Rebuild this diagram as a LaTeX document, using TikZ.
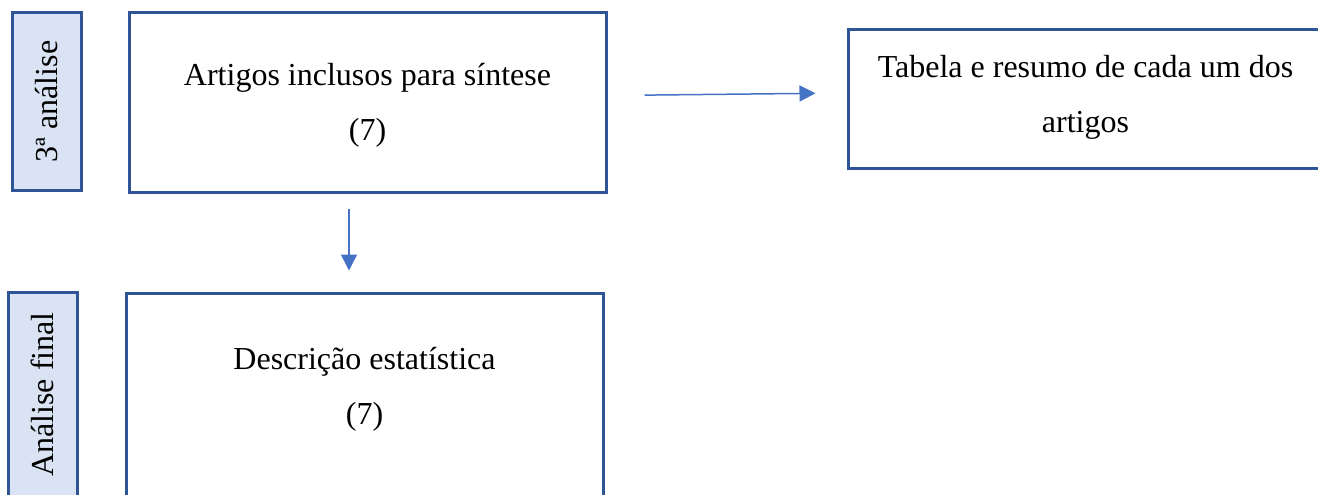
\documentclass[tikz,border=0pt]{standalone}
\usepackage{fontspec}
\setmainfont{Liberation Serif}
\usetikzlibrary{arrows.meta}
\definecolor{borda}{HTML}{2F5597}
\definecolor{fundo}{HTML}{DAE3F3}
\definecolor{azulseta}{HTML}{4472C4}

\begin{document}
\begin{tikzpicture}[x=1pt,y=-1pt,
  caixa/.style={draw=borda,line width=3pt,align=center,font=\fontsize{32}{55}\selectfont},
  etapa/.style={draw=borda,fill=fundo,line width=3pt,rotate=90,minimum height=69pt,font=\fontsize{32}{38}\selectfont},
  ligacao/.style={draw=azulseta,line width=1.5pt,-{Triangle[length=16pt,width=16pt]}}]
\useasboundingbox (0,0) rectangle (1318,495);
\clip (0,0) rectangle (1318,495);
% etapas
\node[etapa,minimum width=178pt] (fase3) at (46.5,101.5) {3ª análise};
\node[etapa,minimum width=205pt] (final) at (42.5,394.5) {Análise final};
% caixas
\node[caixa,minimum width=477pt,minimum height=179pt,text depth=2pt] (sintese) at (367.5,102.5) {Artigos inclusos para síntese\\(7)};
\node[caixa,minimum width=475pt,minimum height=138pt,text depth=11pt] (tabela) at (1085.5,99) {Tabela e resumo de cada um dos\\artigos};
\node[caixa,minimum width=477pt,minimum height=207pt,text depth=21pt] (descricao) at (364.5,396.5) {Descrição estatística\\(7)};
% setas
\draw[ligacao,shorten <=37pt,shorten >=31pt] ([yshift=7pt]sintese.east) -- ([yshift=6pt]tabela.west);
\draw[ligacao,shorten <=15pt,shorten >=21pt] ([xshift=-18.5pt]sintese.south) -- ([xshift=-18.5pt]sintese.south |- descricao.north);
\end{tikzpicture}
\end{document}
